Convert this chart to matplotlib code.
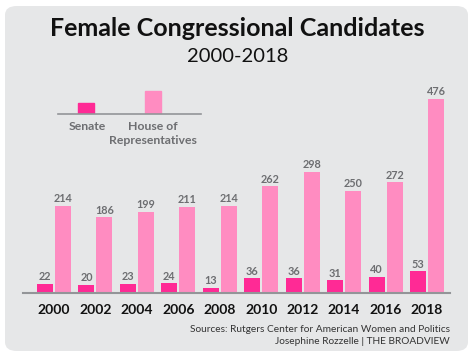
import matplotlib.pyplot as plt
from matplotlib.patches import FancyBboxPatch, Rectangle
import numpy as np

years = ['2000', '2002', '2004', '2006', '2008', '2010', '2012', '2014', '2016', '2018']
senate = [22, 20, 23, 24, 13, 36, 36, 31, 40, 53]
house = [214, 186, 199, 211, 214, 262, 298, 250, 272, 476]

senate_color = '#ff2a95'
house_color = '#ff8cc1'
label_gray = '#6d6e71'
panel_gray = '#e6e7e8'

W, H = 475, 357
fig = plt.figure(figsize=(W / 100, H / 100), dpi=100)
fig.patch.set_facecolor('white')

# rounded background panel
panel = FancyBboxPatch((5 / W, 6 / H), 463 / W, 345 / H,
                       boxstyle='round,pad=0,rounding_size=0.025',
                       transform=fig.transFigure, facecolor=panel_gray,
                       edgecolor='none', zorder=-10)
fig.patches.append(panel)

fig.text(0.5, 1 - 28 / H, 'Female Congressional Candidates', ha='center', va='center',
         fontsize=18, fontfamily='Lato', fontweight='bold', color='#111111')
fig.text(0.5, 1 - 57 / H, '2000-2018', ha='center', va='center',
         fontsize=14.5, fontfamily='Lato', color='#111111')

# main axes: baseline at y=293px, x from 23 to 450px
ax = fig.add_axes([23 / W, (H - 293) / H, 427 / W, 213 / H])
ax.set_facecolor('none')
step = 41.44
ax.set_xlim(-31 / step, 9 + 23 / step)
ax.set_ylim(0, 213 / 0.4076)

x = np.arange(len(years))
w = 16 / step
off = 9 / step
ax.bar(x - off, senate, w, color=senate_color)
ax.bar(x + off, house, w, color=house_color)
for xi, s, h in zip(x, senate, house):
    ax.text(xi - off, s + 4, str(s), ha='center', va='bottom', fontsize=7.8,
            fontweight='bold', fontfamily='Lato', color=label_gray)
    ax.text(xi + off, h + 4, str(h), ha='center', va='bottom', fontsize=7.8,
            fontweight='bold', fontfamily='Lato', color=label_gray)

for s in ['top', 'right', 'left']:
    ax.spines[s].set_visible(False)
ax.spines['bottom'].set_color('#939598')
ax.spines['bottom'].set_linewidth(1.5)
ax.set_yticks([])
ax.set_xticks(x)
ax.set_xticklabels(years, fontsize=10, fontweight='bold', fontfamily='Lato', color='#111111')
ax.tick_params(axis='x', length=0, pad=8)

# legend drawn as a tiny chart, baseline at y=114px from x=58 to 201px
lax = fig.add_axes([58 / W, (H - 114) / H, 143 / W, 30 / H])
lax.set_facecolor('none')
lax.set_xlim(58, 201)
lax.set_ylim(0, 30)
lax.add_patch(Rectangle((78, 0), 16, 11, color=senate_color))
lax.add_patch(Rectangle((145, 0), 16, 23, color=house_color))
for s in ['top', 'right', 'left']:
    lax.spines[s].set_visible(False)
lax.spines['bottom'].set_color('#939598')
lax.spines['bottom'].set_linewidth(1.2)
lax.set_xticks([])
lax.set_yticks([])
fig.text(87 / W, 1 - 126 / H, 'Senate', ha='center', va='center', fontsize=8.8,
         fontfamily='Lato', fontweight='bold', color=label_gray)
fig.text(153 / W, 1 - 133.5 / H, 'House of\nRepresentatives', ha='center', va='center',
         fontsize=8.8, fontfamily='Lato', fontweight='bold', color=label_gray, linespacing=1.25)

fig.text(450 / W, 1 - 330 / H, 'Sources: Rutgers Center for American Women and Politics',
         ha='right', va='center', fontsize=7.3, fontfamily='Lato', color='#333333')
fig.text(450 / W, 1 - 341 / H, 'Josephine Rozzelle | THE BROADVIEW',
         ha='right', va='center', fontsize=7.3, fontfamily='Lato', color='#333333')

fig.savefig('out.png', dpi=100)
